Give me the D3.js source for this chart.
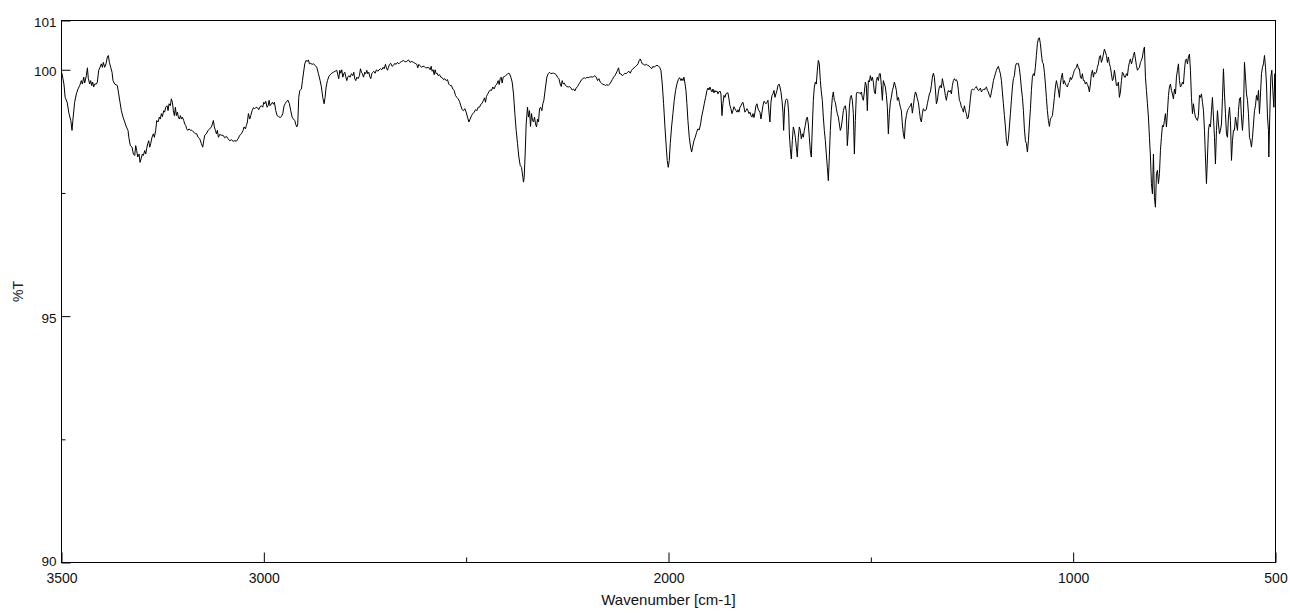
<!DOCTYPE html>
<html>
<head>
<meta charset="utf-8">
<script src="https://cdn.jsdelivr.net/npm/d3@7"></script>
<style>
  body { margin: 0; background: #fff; }
  text { font-family: Arial, "Liberation Sans", sans-serif; }
</style>
</head>
<body>
<div id="chart-container"></div>
<script>
// spectrum, [wavenumber cm-1, %T], split by region
var band3500 = [
  [3500,99.95],[3499,99.93],[3494,99.71],[3491,99.44],[3486,99.34],[3481.5,99.11],[3477,98.97],[3474,98.77],[3472,98.97],[3467.5,99.34],[3463.3,99.51],[3459.2,99.61],[3455,99.68],[3451,99.78],[3448.5,99.71],[3445,99.85],[3442.7,99.73],[3438.6,99.88],[3436,100.04],[3433.7,99.82],[3430.4,99.71],[3427.9,99.78],[3425.4,99.68],[3423,99.75],[3420.5,99.65],[3418,99.71],[3413.9,99.71],[3411.4,99.75],[3408.1,99.99],[3404.8,100.05],[3401.5,100.12],[3399,100.05],[3396.6,100.15],[3393.3,100.05],[3390,100.12],[3386.7,100.26],[3384.2,100.29],[3381.7,100.15],[3378.4,100.05],[3375.1,99.95],[3372.7,99.78],[3368.6,99.71],[3362,99.68],[3358.7,99.51],[3355.4,99.34],[3352.1,99.17],[3348,99.04],[3343.8,98.94],[3339.7,98.84],[3335.6,98.77],[3333.1,98.60],[3329.8,98.46],[3325.7,98.43],[3322.4,98.29],[3319.1,98.26],[3316.6,98.46],[3314.2,98.36],[3311.7,98.23],[3308.4,98.29],[3305.9,98.12],[3303.4,98.19],[3300.2,98.29],[3297.7,98.26],[3294.4,98.36],[3291.9,98.29],[3289.5,98.40],[3287,98.50],[3284.5,98.56],[3282,98.43],[3279.6,98.50],[3276.3,98.63],[3273,98.70],[3270.5,98.63],[3267.2,98.77],[3264.7,98.97],[3261.4,98.94],[3258.1,99.04],[3255.7,99.00],[3253.2,99.11],[3250.7,99.05],[3247.4,99.17],[3245,99.14],[3242.5,99.24],[3239.2,99.27],[3236.7,99.17],[3234.2,99.31],[3231,99.27],[3228.5,99.41],[3226,99.34],[3223.5,99.17],[3221.1,99.07],[3218.6,99.24],[3216.1,99.07],[3213.6,99.14],[3211.2,99.04],[3208.7,99.00],[3206.2,99.07],[3203.7,99.00],[3201.3,99.04],[3198,98.97],[3195.5,98.90],[3193,98.87],[3190.6,98.80],[3188.1,98.77],[3184.8,98.80],[3181.5,98.77],[3179,98.78],[3175.7,98.75],[3172.4,98.73],[3169.1,98.70],[3165.8,98.70],[3162.5,98.63],[3158.4,98.60],[3154.3,98.50],[3151,98.43],[3148.5,98.56],[3146.1,98.67],[3142,98.70],[3137.8,98.77],[3133.7,98.80],[3129.6,98.84],[3127.1,98.90],[3124.7,98.97],[3122.2,98.84],[3119.7,98.77],[3117.2,98.70],[3114.8,98.77],[3112.3,98.63],[3109,98.69],[3104.9,98.67],[3100.7,98.67],[3096.6,98.62],[3092.5,98.65],[3088.4,98.60],[3084.3,98.56],[3080.1,98.58],[3076,98.55],[3071.9,98.56],[3067.8,98.55],[3063.6,98.60],[3059.5,98.67],[3055.4,98.70],[3051.3,98.77],[3048.8,98.84],[3045.5,98.80],[3043.1,98.87],[3040.6,98.94],[3038.1,99.11],[3034.8,99.00],[3032.3,99.07],[3029,99.17],[3025.7,99.23],[3022.5,99.21],[3019.2,99.24],[3015.9,99.23],[3012.6,99.19],[3009.3,99.25],[3006,99.27],[3002.7,99.24],[3000.2,99.34],[2997.7,99.31],[2995.3,99.36],[2992,99.24],[2989.5,99.27],[2987,99.38],[2984.6,99.27],[2981.3,99.31],[2978.8,99.34],[2976.3,99.30],[2973.8,99.34],[2970.5,99.17],[2967.2,99.07],[2963.1,99.05],[2959.8,99.03],[2956.5,99.05],[2953.2,99.11],[2949.9,99.27],[2946.6,99.32],[2943.3,99.36],[2940.1,99.38],[2936.8,99.31],[2933.5,99.17],[2930.2,99.04],[2926.9,99.00],[2923.6,98.97],[2921.1,98.89],[2918.6,98.84],[2916.2,98.90],[2913.7,99.44],[2911.2,99.58],[2907.1,99.61],[2904.6,99.78]
];

var band2900 = [
  [2898.9,100.12],[2895.6,100.19],[2892.3,100.17],[2889.8,100.20],[2887.3,100.12],[2884,100.13],[2880.7,100.11],[2877.4,100.12],[2873.3,100.09],[2869.2,100.05],[2865.1,99.92],[2860.9,99.78],[2857.7,99.65],[2854.4,99.44],[2851.1,99.31],[2848.6,99.44],[2846.1,99.65],[2842.8,99.78],[2839.5,99.86],[2836.2,99.90],[2832.1,99.93],[2828,99.95],[2823.9,99.97],[2819.8,99.99],[2817.3,99.90],[2814.8,99.82],[2812.3,99.99],[2809.9,99.93],[2807.4,100.00],[2804.9,99.85],[2802.4,99.92],[2800,99.95],[2797.5,99.86],[2795,99.78],[2792.6,99.85],[2790.1,99.88],[2786.8,99.85],[2783.5,99.92],[2780.2,99.88],[2777.7,99.95],[2775.3,99.82],[2772.8,99.78],[2770.3,99.85],[2767,99.82],[2763.7,99.88],[2761.2,100.02],[2758.8,99.95],[2756.3,99.92],[2753.8,99.85],[2750.5,99.95],[2748.1,99.92],[2745.6,99.99],[2743.1,99.92],[2740.6,99.95],[2738.2,99.86],[2735.7,99.82],[2733.2,99.92],[2730.8,99.95],[2728.3,99.97],[2725,99.93],[2721.7,100.00],[2718.4,99.97],[2715.1,100.00],[2711.8,100.02],[2708.5,100.00],[2705.2,100.05],[2702.7,100.02],[2699.4,100.11],[2697,100.04],[2694.5,99.99],[2692,100.05],[2689.6,100.11],[2686.3,100.13],[2683,100.07],[2679.7,100.09],[2676.4,100.13],[2673.1,100.11],[2669.8,100.15],[2666.5,100.12],[2663.2,100.15],[2659.1,100.17],[2655,100.19],[2650.8,100.16],[2646.7,100.17],[2642.6,100.20],[2638.5,100.15],[2634.3,100.17],[2630.2,100.15],[2626.1,100.13],[2622,100.11],[2619.5,100.04],[2617,100.11],[2613.7,100.08],[2610.4,100.05],[2607.1,100.07],[2603.9,100.07],[2600.6,100.04],[2597.3,100.04],[2593.1,100.05],[2589,100.00],[2586.5,100.07],[2584.1,99.97],[2581.6,100.00],[2579.1,99.90],[2576.7,100.00],[2574.2,99.92],[2571.7,99.93],[2569.2,99.88],[2565.9,99.90],[2562.6,99.85],[2559.3,99.84],[2556,99.80],[2552.8,99.82],[2549.5,99.78],[2546.2,99.80],[2542.9,99.71],[2539.6,99.68],[2536.3,99.68],[2533,99.61],[2529.7,99.58],[2526.4,99.48],[2523.1,99.44],[2519.8,99.41],[2516.5,99.36],[2513.2,99.27],[2509.9,99.19],[2506.6,99.17],[2503.3,99.21],[2500,99.14],[2496.7,99.04],[2493.4,98.94],[2490.1,99.00],[2486.8,99.07],[2483.5,99.11],[2480.2,99.14],[2476.9,99.19],[2473.6,99.17],[2470.3,99.24],[2467,99.24],[2463.8,99.30],[2460.5,99.32],[2457.2,99.38],[2454.7,99.43],[2452.2,99.34],[2449.8,99.46],[2447.3,99.50],[2444,99.55],[2440.7,99.59],[2437.4,99.58],[2434.1,99.65],[2430.8,99.61],[2427.5,99.68],[2424.2,99.71],[2420.9,99.78],[2418.4,99.70],[2415.9,99.82],[2413.5,99.85],[2411,99.73],[2408.5,99.85],[2406.1,99.86],[2402.8,99.88],[2399.5,99.90],[2396.2,99.93],[2392.9,99.92],[2389.6,99.85],[2386.3,99.75],[2383,99.51],[2379.7,99.11],[2376.4,98.77],[2373.1,98.50],[2369.8,98.23],[2366.5,98.06],[2363.2,98.02],[2359.9,97.82],[2358.3,97.72],[2356.6,97.82],[2354.2,98.29],[2351.7,98.90],[2348.4,99.24],[2345.9,99.04],[2343.4,99.17],[2341,98.85],[2338.5,99.11],[2336,98.97],[2333.5,98.94],[2331.1,99.04],[2328.6,98.90],[2326.1,98.84],[2323.7,99.00],[2321.2,98.94],[2318.7,99.21],[2316.2,99.24],[2313,99.17],[2310.5,99.31],[2308,99.38]
];

var band2300 = [
  [2303.9,99.65],[2300.6,99.85],[2297.3,99.92],[2294,99.95],[2290.7,99.92],[2287.4,99.93],[2284.1,99.93],[2280.8,99.92],[2277.5,99.90],[2274.2,99.85],[2270.9,99.82],[2267.6,99.71],[2265.1,99.66],[2262.7,99.78],[2260.2,99.71],[2257.7,99.73],[2254.4,99.68],[2251.1,99.66],[2247.8,99.65],[2244.5,99.66],[2241.2,99.63],[2237.9,99.59],[2234.6,99.61],[2231.4,99.57],[2228.1,99.63],[2224.8,99.66],[2221.5,99.71],[2218.2,99.75],[2214.9,99.80],[2211.6,99.82],[2208.3,99.84],[2205,99.82],[2201.7,99.85],[2198.4,99.84],[2195.1,99.85],[2191.8,99.86],[2188.5,99.85],[2185.2,99.86],[2181.9,99.88],[2178.6,99.85],[2175.3,99.78],[2172,99.82],[2168.7,99.75],[2165.4,99.73],[2162.1,99.70],[2158.8,99.70],[2155.5,99.68],[2152.2,99.70],[2148.9,99.68],[2145.6,99.71],[2142.3,99.75],[2139,99.80],[2135.7,99.85],[2132.5,99.88],[2129.2,99.93],[2125.9,99.99],[2123.4,100.04],[2120.9,99.92],[2117.6,99.92],[2114.3,99.88],[2111,99.90],[2107.7,99.93],[2104.4,99.92],[2101.1,99.95],[2097.8,99.97],[2094.5,99.93],[2091.2,99.99],[2087.9,100.02],[2084.7,100.04],[2081.4,100.07],[2078.1,100.09],[2074.8,100.13],[2072.3,100.19],[2069.8,100.22],[2067.4,100.17],[2064.9,100.12],[2061.6,100.11],[2058.3,100.09],[2055,100.11],[2051.7,100.09],[2048.4,100.08],[2045.1,100.05],[2041.8,100.02],[2038.5,100.07],[2035.2,100.05],[2031.9,100.08],[2028.6,100.09],[2025.3,100.08],[2022,100.05],[2018.7,99.99],[2015.4,99.71],[2012.1,99.31],[2008.8,98.84],[2005.5,98.43],[2003.1,98.16],[2000.6,98.02],[1998.1,98.16],[1995.7,98.50],[1992.4,98.84],[1989.1,99.11],[1985.8,99.38],[1982.5,99.58],[1979.2,99.71],[1975.9,99.80],[1972.6,99.84],[1969.3,99.78],[1966.8,99.82],[1964.3,99.78],[1961.9,99.85],[1959.4,99.73],[1956.9,99.58],[1954.5,99.31],[1952,98.97],[1948.7,98.63],[1945.4,98.43],[1942.9,98.33],[1940.4,98.43],[1937.2,98.56],[1933.9,98.63],[1930.6,98.73],[1927.3,98.80],[1924,98.78],[1920.7,98.90],[1918.2,99.04],[1914.9,99.17],[1911.6,99.31],[1908.3,99.44],[1905,99.58],[1902.5,99.63],[1900.1,99.59],[1897.6,99.65],[1895.1,99.59],[1892.6,99.55],[1890.2,99.61],[1887.7,99.53],[1885.2,99.58],[1882.8,99.55],[1880.3,99.57],[1877.8,99.51],[1875.3,99.55],[1872.9,99.57],[1870.4,99.51],[1867.9,99.07],[1865.5,99.31],[1863,99.48],[1860.5,99.44],[1858,99.51],[1855.6,99.53],[1853.1,99.53],[1850.6,99.41],[1848.2,99.27],[1845.7,99.21],[1843.2,99.11],[1840.7,99.17],[1838.3,99.25],[1835.8,99.21],[1833.3,99.17],[1830.8,99.14],[1828.4,99.19],[1825.9,99.14],[1823.4,99.24],[1821,99.27],[1818.5,99.32],[1816,99.34],[1813.5,99.24],[1811.1,99.14],[1808.6,99.17],[1806.1,99.21],[1803.6,99.17],[1801.2,99.11],[1798.7,99.14],[1796.2,99.07],[1793.8,99.04],[1791.3,99.11],[1788.8,99.03],[1786.3,99.14],[1783.9,99.27],[1781.4,99.31],[1778.9,99.21],[1776.5,99.17],[1774,99.14],[1771.5,99.00],[1769,99.14],[1766.6,99.27],[1764.1,99.36],[1761.6,99.34],[1759.1,99.31],[1756.7,99.34],[1754.2,99.38],[1751.7,99.14],[1749.3,98.94],[1746.8,99.34],[1744.3,99.48],[1741.8,99.51],[1739.4,99.58],[1736.9,99.44],[1734.4,99.51],[1731.9,99.58],[1729.5,99.68],[1727,99.71],[1724.5,99.65],[1722.1,99.55],[1719.6,99.38],[1717.1,99.14],[1715.5,98.77],[1713,99.24],[1710.5,99.38],[1708.1,99.41],[1705.6,99.38],[1703.1,99.14]
];

var band1700 = [
  [1701.4,98.70],[1699,98.40],[1696.5,98.19],[1694,98.56],[1691.6,98.84],[1689.1,98.77],[1686.6,98.63],[1684.1,98.43],[1681.7,98.23],[1679.2,98.63],[1676.7,98.84],[1674.2,98.77],[1671.8,98.60],[1669.3,98.70],[1666.8,98.63],[1664.4,98.77],[1661.9,98.87],[1659.4,99.00],[1656.9,99.04],[1654.5,98.90],[1652,98.63],[1649.5,98.36],[1647.1,98.23],[1644.6,98.84],[1642.1,99.38],[1639.6,99.65],[1637.2,99.75],[1634.7,99.71],[1632.2,99.99],[1629.7,100.19],[1627.3,100.12],[1624.8,99.78],[1622.3,99.55],[1619.9,99.38],[1617.4,99.04],[1614.9,98.77],[1612.4,98.56],[1610,98.29],[1607.5,98.02],[1605,97.75],[1602.6,98.23],[1600.1,98.77],[1597.6,99.17],[1595.1,99.44],[1592.7,99.55],[1590.2,99.38],[1587.7,99.34],[1585.2,99.21],[1582.8,99.11],[1580.3,99.04],[1577.8,98.90],[1575.4,98.77],[1572.9,98.84],[1570.4,99.00],[1567.9,99.17],[1565.5,99.24],[1563,99.27],[1560.5,99.14],[1558.1,98.46],[1555.6,98.77],[1553.1,99.24],[1550.6,99.44],[1548.2,99.48],[1545.7,99.38],[1543.2,99.11],[1540.7,98.29],[1538.3,98.97],[1535.8,99.51],[1533.3,99.55],[1530.9,99.53],[1528.4,99.53],[1525.9,99.51],[1523.4,99.55],[1521,99.44],[1518.5,99.38],[1516,99.55],[1513.6,99.75],[1511.1,99.68],[1508.6,99.17],[1506.1,99.78],[1503.7,99.75],[1501.2,99.88],[1498.7,99.78],[1496.2,99.85],[1493.8,99.75],[1491.3,99.55],[1488.8,99.51],[1486.4,99.78],[1483.9,99.85],[1481.4,99.78],[1478.9,99.92],[1476.5,99.92],[1474,99.68],[1471.5,99.38],[1469.1,99.78],[1466.6,99.71],[1464.1,99.65],[1461.6,99.48],[1459.2,99.24],[1456.7,98.70],[1454.2,99.11],[1451.7,99.34],[1449.3,99.44],[1446.8,99.58],[1444.3,99.65],[1441.9,99.75],[1439.4,99.68],[1436.9,99.58],[1434.4,99.38],[1432,99.44],[1429.5,99.34],[1427,99.24],[1424.5,99.17],[1422.1,98.90],[1419.6,98.70],[1417.1,98.60],[1414.7,98.94],[1412.2,99.07],[1409.7,99.17],[1407.2,99.21],[1404.8,99.24],[1402.3,99.27],[1399.8,99.32],[1397.4,99.12],[1394.9,99.27],[1392.4,99.44],[1389.9,99.55],[1387.5,99.51],[1385,99.41],[1382.5,99.34],[1380,99.17],[1377.6,99.00],[1375.1,98.94],[1372.6,99.11],[1370.2,99.21],[1367.7,99.17],[1365.2,99.17],[1362.7,99.20],[1360.3,99.31],[1357.8,99.41],[1355.3,99.51],[1352.9,99.55],[1350.4,99.68],[1347.9,99.85],[1345.4,99.93],[1343,99.85],[1340.5,99.61],[1338,99.31],[1335.5,99.38],[1333.1,99.55],[1330.6,99.65],[1328.1,99.68],[1325.7,99.63],[1323.2,99.82],[1320.7,99.71],[1318.2,99.61],[1315.8,99.48],[1313.3,99.38],[1310.8,99.51],[1308.4,99.58],[1305.9,99.55],[1303.4,99.58],[1300.9,99.51],[1298.5,99.68],[1296,99.78],[1293.5,99.82],[1291,99.78],[1288.6,99.80],[1286.1,99.75],[1283.6,99.58],[1281.2,99.38],[1278.7,99.34],[1276.2,99.24],[1273.7,99.21],[1271.3,99.14],[1268.8,99.27],[1266.3,99.17],[1263.9,99.11],[1261.4,99.00],[1258.9,99.04],[1256.4,99.21],[1254,99.41],[1251.5,99.58],[1249,99.61],[1246.5,99.59],[1244.1,99.61],[1241.6,99.63],[1239.1,99.66],[1236.7,99.61],[1234.2,99.58],[1231.7,99.59],[1229.2,99.63],[1226.8,99.55],[1224.3,99.58],[1221.8,99.61],[1219.4,99.59],[1216.9,99.63],[1214.4,99.65],[1211.9,99.58],[1209.5,99.55],[1207,99.48],[1204.5,99.44],[1202.1,99.55],[1199.6,99.65],[1197.1,99.78],[1194.6,99.85],[1192.2,99.92],[1189.7,99.99],[1187.2,100.04],[1184.8,100.07],[1182.3,99.99],[1179.8,99.92],[1177.3,99.78],[1174.9,99.55],[1172.4,99.31],[1169.9,99.07],[1167.4,98.84],[1165,98.56],[1162.5,98.46],[1160,98.60],[1157.6,98.84],[1155.1,99.11],[1152.6,99.38],[1150.1,99.65],[1147.7,99.82],[1145.2,99.88],[1142.7,100.07],[1140.2,100.13],[1137.8,100.12],[1135.3,100.13],[1132.8,100.02],[1130.4,99.85],[1127.9,99.61],[1125.4,99.44],[1122.9,99.17],[1120.5,98.80],[1118,98.56],[1115.5,98.50],[1113.1,98.33],[1110.6,98.56],[1108.1,98.90],[1105.6,99.21]
];

var band1100 = [
  [1103.2,99.58],[1100.8,99.85],[1098.3,99.92],[1095.8,99.88],[1093.4,100.05],[1090.9,100.29],[1088.4,100.53],[1085.9,100.63],[1083.5,100.65],[1081,100.53],[1078.5,100.32],[1076,100.15],[1073.6,100.12],[1071.1,99.95],[1068.6,99.71],[1066.2,99.44],[1063.7,99.17],[1061.2,98.97],[1058.7,98.85],[1056.3,99.00],[1053.8,99.03],[1051.3,99.07],[1048.9,99.24],[1046.4,99.44],[1043.9,99.65],[1041.4,99.78],[1039,99.68],[1036.5,99.59],[1034,99.44],[1031.5,99.71],[1029.1,99.85],[1026.6,99.93],[1024.1,99.71],[1021.7,99.78],[1019.2,99.71],[1016.7,99.68],[1014.2,99.65],[1011.8,99.73],[1009.3,99.75],[1006.8,99.85],[1004.4,99.80],[1001.9,99.85],[999.4,99.92],[996.9,99.99],[994.5,100.02],[992,100.05],[989.5,100.12],[987,100.02],[984.6,100.02],[982.1,99.85],[979.6,99.82],[977.2,99.92],[974.7,99.78],[972.2,99.78],[969.7,99.71],[967.3,99.75],[964.8,99.70],[962.3,99.65],[959.9,99.55],[957.4,99.71],[954.9,99.92],[952.4,99.99],[950,99.85],[947.5,99.95],[945,99.92],[942.5,99.95],[940.1,100.05],[937.6,100.12],[935.1,100.26],[932.7,100.29],[930.2,100.15],[927.7,100.22],[925.2,100.32],[922.8,100.42],[920.3,100.36],[917.8,100.29],[915.4,100.15],[912.9,100.26],[910.4,100.12],[907.9,100.05],[905.5,99.92],[903,99.78],[900.5,99.82],[898,99.99],[895.6,99.85],[893.1,99.68],[890.6,99.68],[888.2,99.75],[885.7,99.44],[883.2,99.55],[880.7,99.78],[878.3,99.95],[875.8,99.92],[873.3,99.85],[870.9,99.85],[868.4,99.92],[865.9,99.88],[863.4,100.05],[861,100.15],[858.5,100.22],[856,100.12],[853.5,100.19],[851.1,100.29],[848.6,100.36],[846.1,100.22],[843.7,100.09],[841.2,99.99],[838.7,100.02],[836.2,100.05],[833.8,100.15],[831.3,100.19],[828.8,100.26],[826.4,100.39],[823.9,100.46],[821.4,99.85],[818.9,99.58],[816.5,99.31],[814,99.04],[811.5,98.63],[809,98.23],[806.6,97.69],[804.1,97.48],[801.6,98.29],[799.2,97.41],[796.7,97.21],[794.2,97.89],[791.7,97.96],[789.3,97.69],[786.8,97.89],[784.3,98.36],[781.9,98.63],[779.4,98.87],[776.9,98.84],[774.4,98.97],[772,99.11],[769.5,98.84],[767,99.14],[764.5,99.48],[762.1,99.65],[759.6,99.71],[757.1,99.58],[754.7,99.51],[752.2,99.41],[749.7,99.61],[747.2,99.51],[744.8,99.85],[742.3,99.99],[739.8,100.12],[737.4,99.78],[734.9,99.65],[732.4,99.68],[729.9,99.75],[727.5,99.71],[725,99.99],[722.5,100.19],[720,100.22],[717.6,100.12],[715.1,100.26],[712.6,100.32],[710.2,99.99],[707.7,99.44],[705.2,99.11],[702.7,99.31],[700.3,99.14],[697.8,99.04],[695.3,99.00],[692.9,98.97],[690.4,99.07],[687.9,99.48],[685.4,99.44],[683,99.51],[680.5,99.34],[678,99.17],[675.5,98.77],[673.1,98.23],[670.6,97.69],[668.1,98.23],[665.7,98.77],[663.2,98.90],[660.7,98.84],[658.2,99.17],[655.8,99.44],[653.3,99.04],[650.8,98.63],[648.4,98.09],[645.9,98.77],[643.4,99.17],[640.9,98.90],[638.5,98.70],[636,98.77],[633.5,98.90],[631,99.44],[628.6,100.02],[626.1,99.51],[623.6,99.11],[621.2,98.70],[618.7,98.63],[616.2,99.04],[613.7,99.24],[611.3,98.97],[608.8,98.16],[606.3,98.56],[603.9,98.77],[601.4,98.77],[598.9,99.04],[596.4,98.90],[594,98.77],[591.5,99.17],[589,99.41],[586.5,99.44],[584.1,99.04],[581.6,98.77],[579.1,99.11],[576.7,100.15],[574.2,99.85],[571.7,99.51],[569.2,99.38],[566.8,99.11],[564.3,98.63],[561.8,98.56],[559.4,98.43],[556.9,98.63],[554.4,98.90],[551.9,99.17],[549.5,99.27],[547,99.48],[544.5,99.38],[542,99.58],[539.6,99.11],[537.1,99.51],[534.6,99.92],[532.2,100.05],[529.7,100.12],[527.2,100.29],[524.7,100.05],[522.3,99.71],[519.8,99.04],[517.3,98.77],[516.5,98.23],[514,99.11],[511.6,99.85],[509.1,99.99],[506.6,99.58],[504.1,99.24],[501.7,99.92],[500,99.17]
];

var spectrum = band3500.concat(band2900, band2300, band1700, band1100);

var xMajor = [3500, 3000, 2000, 1000, 500],
    xMinor = [2500, 1500],
    yMajor = [101, 100, 95, 90],
    yMinor = [97.5, 92.5];

// set the dimensions and margins of the graph
var margin = {top: 20.5, right: 14.5, bottom: 50.5, left: 61.5},
    fullW = 1290,
    fullH = 613,
    width = 1214,
    height = 542;

var svg = d3.select("#chart-container")
  .append("svg")
    .attr("width", fullW)
    .attr("height", fullH)
    .style("background", "#fff");
var g = svg.append("g").attr("transform", "translate(" + margin.left + "," + margin.top + ")");

var xScale = d3.scaleLinear().domain([3500, 500]).range([0, width]);
var yScale = d3.scaleLinear().domain([90, 101]).range([height, 0]);

// X axis, ticks pointing into the plot
var xAxis = g.append("g")
  .attr("transform", "translate(0," + height + ")")
  .call(d3.axisBottom(xScale).tickValues(xMajor).tickSize(-10).tickPadding(11).tickFormat(d3.format("d")));
g.append("g")
  .attr("transform", "translate(0," + height + ")")
  .call(d3.axisBottom(xScale).tickValues(xMinor).tickSize(-5).tickFormat(""));

// Y axis
var yAxis = g.append("g")
  .call(d3.axisLeft(yScale).tickValues(yMajor).tickSize(-9).tickPadding(5).tickFormat(d3.format("d")));
g.append("g")
  .call(d3.axisLeft(yScale).tickValues(yMinor).tickSize(-4).tickFormat(""));

g.selectAll(".domain").remove();
g.selectAll(".tick line").attr("stroke", "#000");
xAxis.selectAll("text").style("font-size", "14px").attr("fill", "#111");
yAxis.selectAll("text").style("font-size", "13.5px").attr("fill", "#111").attr("dy", "0.45em");
// the 90 label sits a bit above the corner
yAxis.selectAll(".tick").filter(function(d){ return d === 90; }).select("text").attr("dy", "0.25em");

// frame
g.append("rect")
  .attr("x", 0).attr("y", 0)
  .attr("width", width).attr("height", height)
  .attr("fill", "none")
  .attr("stroke", "#000")
  .attr("stroke-width", 1);

// the spectrum
g.append("path")
  .datum(spectrum)
  .attr("fill", "none")
  .attr("stroke", "#000")
  .attr("stroke-width", 1)
  .attr("stroke-linejoin", "round")
  .attr("d", d3.line().x(function(d){ return xScale(d[0]); }).y(function(d){ return yScale(d[1]); }));

// axis titles
svg.append("text")
  .attr("x", margin.left + width / 2)
  .attr("y", 605)
  .attr("text-anchor", "middle")
  .style("font-size", "15px")
  .attr("fill", "#111")
  .text("Wavenumber [cm-1]");

svg.append("text")
  .attr("transform", "translate(23," + (margin.top + height / 2) + ") rotate(-90)")
  .attr("text-anchor", "middle")
  .style("font-size", "14px")
  .attr("fill", "#222")
  .text("%T");
</script>
</body>
</html>
